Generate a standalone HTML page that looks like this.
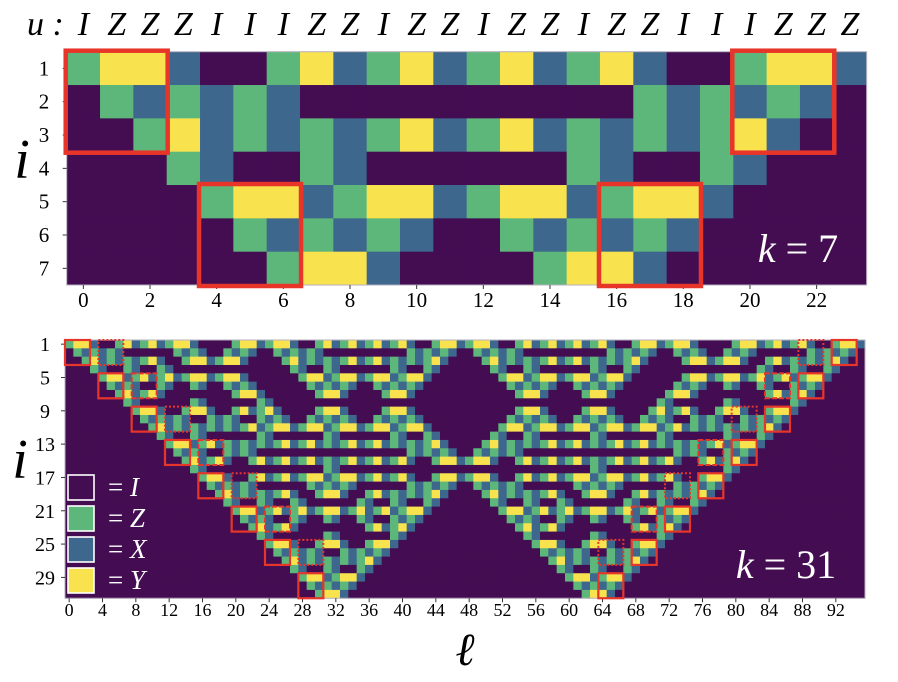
<!DOCTYPE html>
<html><head><meta charset="utf-8"><style>
html,body{margin:0;padding:0;background:#fff;}
svg{display:block;}
text{font-family:"Liberation Serif",serif;}
</style></head><body>
<svg id="fig" width="898" height="682" viewBox="0 0 898 682" xmlns="http://www.w3.org/2000/svg">
<g id="top"></g>
<g id="bot"></g>
</svg>
<script>
// ---------- data ----------
const topU = ["I","Z","Z","Z","I","I","I","Z","Z","I","Z","Z","I","Z","Z","I","Z","Z","I","I","I","Z","Z","Z"];
const topRows = [
"ZYYXIIZYXZYXZYXZYXIIZYYX",
"IZXZXZXIIIIIIIIIIZXZXZXI",
"IIZYXZXZXZYXZYXZXZXZYXII",
"IIIZXIIZXIIIIIIZXIIZXIII",
"IIIIZYYXZYYXZYYXZYYXIIII",
"IIIIIZXZXZXIIZXZXZXIIIII",
"IIIIIIZYYXIIIIZYYXIIIIII"];
const topYTicks = [1,2,3,4,5,6,7];
const topXTicks = [0,2,4,6,8,10,12,14,16,18,20,22];
const topBoxes = [[0,0],[4,4],[16,4],[20,0]]; // [col,row] top-left of 3x3 boxes

const botU = ("I"+"ZZZ"+"III"+"ZZ"+"I"+"ZZ"+"I"+"ZZZ"+"IIIII"+"ZZZ"+"I"+"ZZZ"+"III"+"ZZ"+"I"+"ZZ"+"I"+"ZZ"+"I"+"ZZ"+"III"+"ZZZ"+"I"+"ZZZ"+"III"+"ZZ"+"I"+"ZZ"+"I"+"ZZ"+"I"+"ZZ"+"III"+"ZZZ"+"I"+"ZZZ"+"IIIII"+"ZZZ"+"I"+"ZZ"+"I"+"ZZ"+"III"+"ZZZ").split("");
const botK = 31;
const botYTicks = [1,5,9,13,17,21,25,29];
const botXTicks = [0,4,8,12,16,20,24,28,32,36,40,44,48,52,56,60,64,68,72,76,80,84,88,92];

const colors = {I:"#440d52", Z:"#5db77a", X:"#3d678c", Y:"#f8e34f"};
const code = {I:0,Z:1,X:2,Y:3};
const letter = ["I","Z","X","Y"];
const NS="http://www.w3.org/2000/svg";
function mk(tag, attrs, parent){const e=document.createElementNS(NS,tag);for(const k in attrs)e.setAttribute(k,attrs[k]);parent.appendChild(e);return e;}

// bottom rows from u via Pauli propagation rule
function buildRows(u,k){
  const n=u.length;const rows=[];
  const r1=[];for(let l=0;l<n;l++){r1.push((u[l]==="Z"?2:0)|(u[(l+1)%n]==="Z"?1:0));}
  rows.push(r1);let prev=new Array(n).fill(0);
  for(let i=1;i<k;i++){const cur=rows[i-1];const nx=[];
    for(let l=0;l<n;l++){nx.push(cur[(l-1+n)%n]^cur[l]^cur[(l+1)%n]^prev[l]);}
    prev=cur;rows.push(nx);}
  return rows.map(r=>r.map(v=>letter[v]));
}

function heat(g,rows,x0,y0,cw,ch,name){
  const cg=mk("g",{},g);
  
  
  rows.forEach((row,i)=>{row.forEach((p,l)=>{
    const r=mk("rect",{x:(x0+l*cw).toFixed(2),y:(y0+i*ch).toFixed(2),width:(cw+0.4).toFixed(2),height:(ch+0.4).toFixed(2),fill:colors[p]},cg);
    
    
  });});
  const f=mk("rect",{x:x0,y:y0,width:rows[0].length*cw,height:rows.length*ch,fill:"none",stroke:"#b8b0c0","stroke-width":1},g);
  
  
}

// ---------- top panel ----------
(function(){
  const g=document.getElementById("top");
  const x0=66.7,y0=51.7,cw=33.33,ch=33.33;
  const rows=topRows.map(s=>s.split(""));
  heat(g,rows,x0,y0,cw,ch,"top-heatmap");
  const ul=mk("text",{x:27,y:35,"font-size":34,"font-style":"italic",fill:"#000"},g);ul.textContent="u :";
  
  
  topU.forEach((p,l)=>{const t=mk("text",{x:x0+(l+0.5)*cw,y:35,"font-size":34,"font-style":"italic","text-anchor":"middle",fill:"#000"},g);t.textContent=p;
    
    });
  topYTicks.forEach(v=>{const y=y0+(v-0.5)*ch;
    const t=mk("text",{x:44,y:y+7,"font-size":21,"text-anchor":"middle",fill:"#000"},g);t.textContent=v;
    
    
    mk("line",{x1:x0-4,x2:x0,y1:y,y2:y,stroke:"#333","stroke-width":1},g);});
  topXTicks.forEach(v=>{const x=x0+(v+0.5)*cw;
    const t=mk("text",{x:x,y:307,"font-size":21,"text-anchor":"middle",fill:"#000"},g);t.textContent=v;
    
    
    mk("line",{x1:x,x2:x,y1:y0+7*ch,y2:y0+7*ch+4,stroke:"#333","stroke-width":1},g);});
  const il=mk("text",{x:22,y:178,"font-size":56,"font-style":"italic","text-anchor":"middle",fill:"#000"},g);il.textContent="i";
  
  
  topBoxes.forEach(b=>{const r=mk("rect",{x:x0+b[0]*cw-1,y:y0+b[1]*ch-1,width:3*cw+2,height:3*ch+2,fill:"none",stroke:"#e8352a","stroke-width":4.5},g);
    
    });
  const k=mk("text",{x:798,y:262,"font-size":40,"text-anchor":"middle",fill:"#fff"},g);
  k.innerHTML='<tspan font-style="italic">k</tspan> = 7';
  
  
})();

// ---------- bottom panel ----------
(function(){
  const g=document.getElementById("bot");
  const x0=65,y0=340,cw=800/96,ch=8.33;
  const rows=buildRows(botU,botK);
  heat(g,rows,x0,y0,cw,ch,"bottom-heatmap");
  botYTicks.forEach(v=>{const y=y0+(v-0.5)*ch;
    const t=mk("text",{x:45,y:y+7,"font-size":20,"text-anchor":"middle",fill:"#000"},g);t.textContent=v;
    
    
    mk("line",{x1:x0-4,x2:x0,y1:y,y2:y,stroke:"#333","stroke-width":1},g);});
  botXTicks.forEach(v=>{const x=x0+(v+0.5)*cw;
    const t=mk("text",{x:x,y:616,"font-size":18,"text-anchor":"middle",fill:"#000"},g);t.textContent=v;
    
    
    mk("line",{x1:x,x2:x,y1:y0+botK*ch,y2:y0+botK*ch+4,stroke:"#333","stroke-width":1},g);});
  const il=mk("text",{x:20,y:478,"font-size":56,"font-style":"italic","text-anchor":"middle",fill:"#000"},g);il.textContent="i";
  
  
  const xl=mk("text",{x:465,y:665,"font-size":46,"font-style":"italic","text-anchor":"middle",fill:"#000"},g);xl.textContent="ℓ";
  
  
  const n=botU.length;
  for(let j=0;j<8;j++){
    const rr=4*j;
    [[4*j,null],[n-4-4*j,null]].forEach(b=>{
      const r=mk("rect",{x:x0+b[0]*cw,y:y0+rr*ch,width:3*cw,height:3*ch,fill:"none",stroke:"#e8352a","stroke-width":2.2},g);
      
      
    });
    if(j<7){
      const dash=(j%2===0)?"2,2":"5,2";
      [4*j+4,n-8-4*j].forEach(c=>{
        const r=mk("rect",{x:x0+c*cw,y:y0+rr*ch,width:3*cw,height:3*ch,fill:"none",stroke:"#e8352a","stroke-width":2,"stroke-dasharray":dash},g);
        
        
      });
    }
  }
  const legend=mk("g",{},g);
  
  
  ["I","Z","X","Y"].forEach((p,i)=>{
    const y=475+i*31;
    const r=mk("rect",{x:68,y:y,width:26,height:25,fill:colors[p],stroke:"#fff","stroke-width":1.6},legend);
    
    
    const t=mk("text",{x:108,y:y+21,"font-size":27,fill:"#fff"},legend);
    t.innerHTML='= <tspan font-style="italic">'+p+'</tspan>';
    
    
  });
  const k=mk("text",{x:786,y:578,"font-size":40,"text-anchor":"middle",fill:"#fff"},g);
  k.innerHTML='<tspan font-style="italic">k</tspan> = 31';
  
  
})();
</script>
</body></html>
